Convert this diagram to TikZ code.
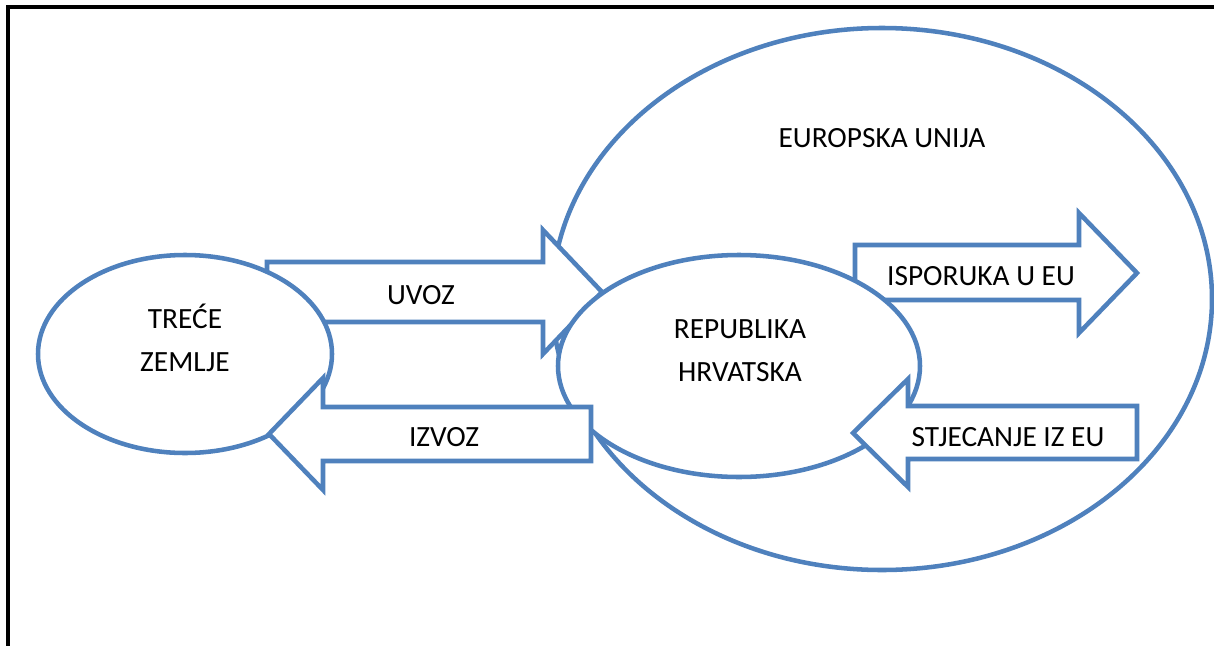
\documentclass[tikz,border=0pt]{standalone}
\usepackage{fontspec}
\setmainfont{Carlito}
\usetikzlibrary{shapes.geometric}
\definecolor{plava}{HTML}{4F81BD}

\tikzset{
  zone/.style={draw=plava, line width=3.4pt, fill=white, ellipse, inner sep=0pt},
  flow/.style={draw=plava, line width=3.4pt, fill=white, line join=miter},
  txt/.style={font=\fontsize{22}{32}\selectfont, align=center, inner sep=0pt},
}

\begin{document}
\begin{tikzpicture}[x=0.75pt, y=-0.75pt]
        \useasboundingbox (0,0) rectangle (1214,646);
        \path[draw, line width=2.3pt] (8,646) -- (8,7) -- (1214,7);

        \node[zone, minimum width=495pt, minimum height=406.5pt] (eu) at (882,299) {};

        \path[flow] (267,262) -- (543,262) -- (543,230) -- (602,292) -- (543,354) -- (543,322) -- (267,322) -- cycle;
        \path[flow] (855,245) -- (1079,245) -- (1079,213) -- (1137,273) -- (1079,333) -- (1079,300) -- (855,300) -- cycle;

        \node[zone, minimum width=271.5pt, minimum height=166.5pt] (hr) at (739,366) {};
        \node[zone, minimum width=220.5pt, minimum height=148.5pt] (tz) at (185,354) {};

        \path[flow] (591,407) -- (323,407) -- (323,378) -- (269,434) -- (323,490) -- (323,461) -- (591,461) -- cycle;
        \path[flow] (1137,406) -- (908,406) -- (908,379) -- (853,433) -- (908,487) -- (908,459) -- (1137,459) -- cycle;

        \node[txt, anchor=base] (euText) at (882,147) {EUROPSKA UNIJA};
        \node[txt, anchor=base] (tzText) at (185,371) {TREĆE\\ZEMLJE};
        \node[txt, anchor=base] (hrText) at (740,381) {REPUBLIKA\\HRVATSKA};
        \node[txt, anchor=base] (uvoz) at (421,304) {UVOZ};
        \node[txt, anchor=base] (izvoz) at (444,446) {IZVOZ};
        \node[txt, anchor=base] (isporuka) at (981,285) {ISPORUKA U EU};
        \node[txt, anchor=base] (stjecanje) at (1008,446) {STJECANJE IZ EU};
\end{tikzpicture}
\end{document}
